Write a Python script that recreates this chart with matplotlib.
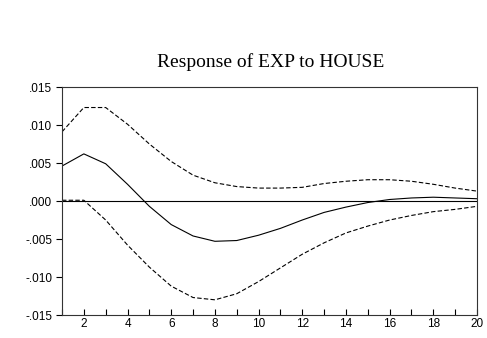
import numpy as np
import matplotlib
matplotlib.use("Agg")
import matplotlib.pyplot as plt

periods = list(range(1, 21))
response = [0.0046, 0.0062, 0.0049, 0.0022, -0.0007, -0.0031, -0.0046, -0.0053,
            -0.0052, -0.0045, -0.0036, -0.0025, -0.0015, -0.0008, -0.0002,
            0.0002, 0.0004, 0.0005, 0.0004, 0.0003]
upper = [0.0091, 0.0123, 0.0123, 0.0101, 0.0075, 0.0052, 0.0034, 0.0024,
         0.0019, 0.0017, 0.0017, 0.0018, 0.0023, 0.0026, 0.0028, 0.0028,
         0.0026, 0.0022, 0.0017, 0.0013]
lower = [0.0001, 0.0001, -0.0025, -0.0058, -0.0087, -0.0112, -0.0127, -0.0130,
         -0.0122, -0.0106, -0.0088, -0.0070, -0.0055, -0.0042, -0.0033, -0.0025,
         -0.0019, -0.0014, -0.0011, -0.0007]
yticks = [-0.015, -0.010, -0.005, 0.0, 0.005, 0.010, 0.015]
ytick_labels = ["-.015", "-.010", "-.005", ".000", ".005", ".010", ".015"]

fig = plt.figure(figsize=(4.87, 3.38), dpi=100)
ax = fig.add_axes([0.1273, 0.068, 0.8522, 0.6746])

ax.axhline(0, color="black", lw=0.8)
ax.plot(periods, response, color="black", lw=0.8)
ax.plot(periods, upper, color="black", lw=0.8, ls=(0, (4, 2)))
ax.plot(periods, lower, color="black", lw=0.8, ls=(0, (4, 2)))

ax.set_xlim(1, 20)
ax.set_ylim(-0.015, 0.015)
ax.set_yticks(yticks)
ax.set_yticklabels(ytick_labels, family="Liberation Sans", fontsize=8.5)
ax.set_xticks(periods)
ax.set_xticklabels(["" if p % 2 else str(p) for p in periods],
                   family="Liberation Sans", fontsize=8.5)
ax.tick_params(axis="x", direction="in", length=4, width=0.8, pad=2)
ax.tick_params(axis="y", direction="out", length=4, width=0.8, pad=3)
for s in ax.spines.values():
    s.set_linewidth(0.8)
    s.set_color("#333333")

fig.text(0.555, 0.815, "Response of EXP to HOUSE", ha="center", va="center",
         family="Liberation Serif", fontsize=14)

fig.savefig("out.png", dpi=100)
